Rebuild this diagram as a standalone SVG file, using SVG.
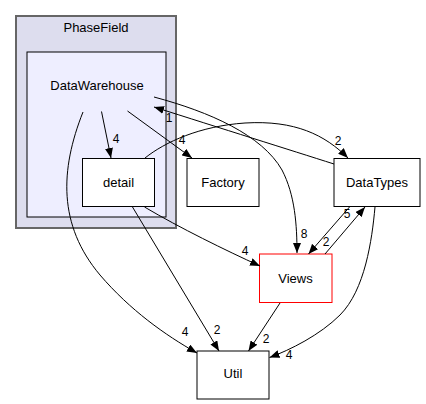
<svg xmlns="http://www.w3.org/2000/svg" width="426" height="404" viewBox="0 0 426 404">
<style>
text{font-family:"Liberation Sans",Arial,sans-serif;font-size:13px;fill:#000}
.n{text-anchor:middle}
.box{fill:#fff;stroke:#000;stroke-width:1}
.e{fill:none;stroke:#000;stroke-width:1;marker-end:url(#ah)}
.l{text-anchor:middle;font-size:12px}
</style>
<defs>
<marker id="ah" viewBox="0 0 10 8" refX="10" refY="4" markerWidth="10" markerHeight="8" markerUnits="userSpaceOnUse" orient="auto">
<path d="M0,0 L10,4 L0,8 z" fill="#000"/>
</marker>
</defs>
<g id="cluster_PhaseField">
<rect x="16" y="16" width="160" height="212" fill="#ddddee" stroke="#666" stroke-width="2"/>
<text class="n" x="96" y="32">PhaseField</text>
</g>
<g id="node_DataWarehouse">
<rect x="27" y="52" width="139" height="165" fill="#eeeeff" stroke="#000" stroke-width="1"/>
<text class="n" x="97" y="90">DataWarehouse</text>
</g>
<g id="node_detail">
<rect class="box" x="82.5" y="158.5" width="72" height="48"/>
<text class="n" x="118.5" y="187">detail</text>
</g>
<g id="node_Factory">
<rect class="box" x="187" y="158.5" width="72" height="48"/>
<text class="n" x="223" y="187">Factory</text>
</g>
<g id="node_DataTypes">
<rect class="box" x="334" y="158.5" width="86" height="48"/>
<text class="n" x="377" y="187">DataTypes</text>
</g>
<g id="node_Views">
<rect x="259.5" y="254" width="72.5" height="48.5" fill="#fff" stroke="#ff0000" stroke-width="1"/>
<text class="n" x="295.5" y="282.5">Views</text>
</g>
<g id="node_Util">
<rect class="box" x="197" y="351" width="72" height="48"/>
<text class="n" x="233" y="378">Util</text>
</g>
<g id="connectors">
<path class="e" d="M101.5,111.5 L111,158"/>
<text class="l" x="116" y="143">4</text>
<path class="e" d="M127.5,111 L192,158"/>
<text class="l" x="182" y="144">4</text>
<path class="e" d="M154,97 C210,112 262,135 282,170 C295,195 297,225 297,253"/>
<text class="l" x="304" y="238">8</text>
<path class="e" d="M334,164 C290,150 220,128 154,107"/>
<text class="l" x="169" y="122">1</text>
<path class="e" d="M145,158 C165,142 200,126 245,123 C295,120 325,135 348,158"/>
<text class="l" x="338" y="145">2</text>
<path class="e" d="M144.5,207 C180,228 225,250 260,266"/>
<text class="l" x="245" y="255">4</text>
<path class="e" d="M132.5,207 L219,351"/>
<text class="l" x="217" y="334">2</text>
<path class="e" d="M83,112 C60,170 58,225 100,275 C130,310 165,335 197,353"/>
<text class="l" x="185" y="336">4</text>
<path class="e" d="M280,303 L248.5,351"/>
<text class="l" x="266" y="343">2</text>
<path class="e" d="M375,207 C372,240 365,290 340,315 C320,335 290,350 269.5,357.5"/>
<text class="l" x="289" y="359">4</text>
<path class="e" d="M349.5,207 L308.5,254"/>
<text class="l" x="347" y="218">5</text>
<path class="e" d="M325,254 L365,207"/>
<text class="l" x="326" y="246">2</text>
</g>
</svg>
